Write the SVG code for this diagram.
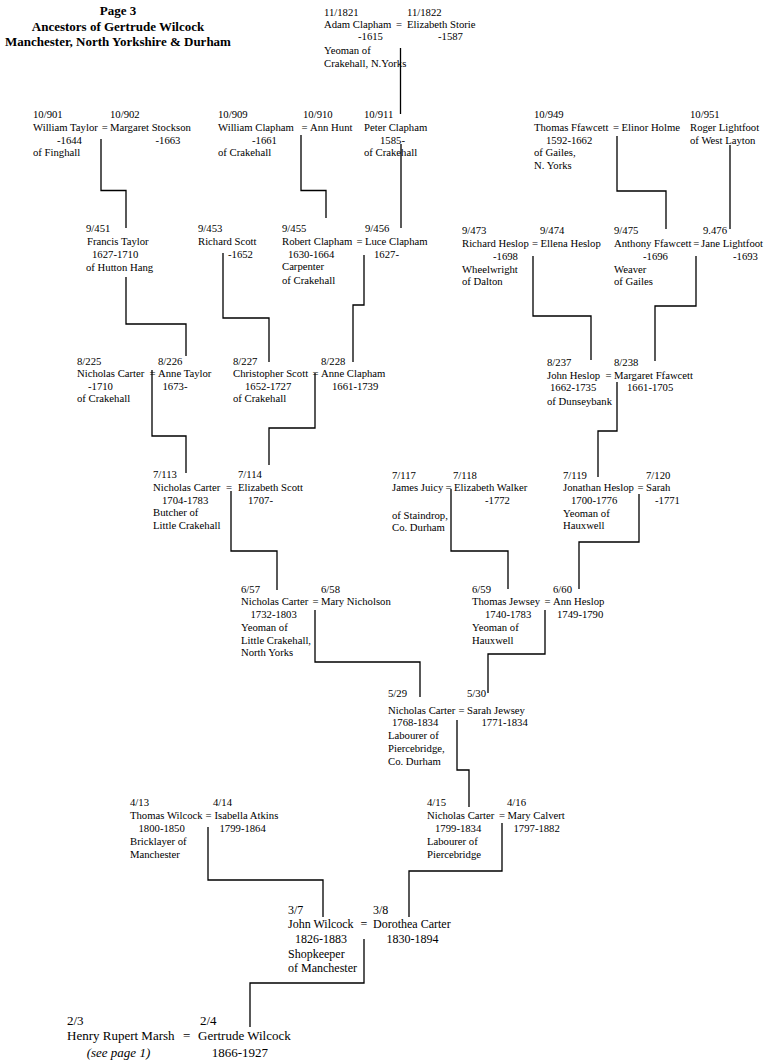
<svg xmlns="http://www.w3.org/2000/svg" width="765" height="1060" viewBox="0 0 765 1060">
<style>
text{font-family:"Liberation Serif","Times New Roman",serif;font-size:10.7px;fill:#000}
.title{font-weight:bold;font-size:13px;text-anchor:middle}
.r3{font-size:12px}
.r2{font-size:13px}
.it{font-style:italic}
.ln{fill:none;stroke:#000;stroke-width:1.3}
</style>
<rect width="765" height="1060" fill="#fff"/>
<g id="title">
<text class="title" x="118" y="15">Page 3</text>
<text class="title" x="118" y="30.5">Ancestors of Gertrude Wilcock</text>
<text class="title" x="118" y="46">Manchester, North Yorkshire &amp; Durham</text>
</g>
<g id="connectors">
<path class="ln" d="M400.5 48V114"/>
<path class="ln" d="M101 139V190.5H126V228"/>
<path class="ln" d="M301 135V190.5H326V218"/>
<path class="ln" d="M401 144V228"/>
<path class="ln" d="M617 136V191H666V229"/>
<path class="ln" d="M730 145V229"/>
<path class="ln" d="M126 277V324H186V356"/>
<path class="ln" d="M223 253V318H269V362"/>
<path class="ln" d="M364 255V305H353V362"/>
<path class="ln" d="M533 256V316H591V360"/>
<path class="ln" d="M696 256V306H655V361"/>
<path class="ln" d="M152 370V436H186V473"/>
<path class="ln" d="M315 373V428H269V465"/>
<path class="ln" d="M617 382V431H598V477"/>
<path class="ln" d="M231 491V551H277V590"/>
<path class="ln" d="M451 489V551H508V589"/>
<path class="ln" d="M639 494V542H579V589"/>
<path class="ln" d="M315 610V662H420V697"/>
<path class="ln" d="M545 610V654H488V693"/>
<path class="ln" d="M457 720V770H469V807"/>
<path class="ln" d="M208 827V880H323V917"/>
<path class="ln" d="M502 823V871H409V917"/>
<path class="ln" d="M364 939V983H250V1027"/>
</g>
<g id="p1821"><text x="324" y="15.7">11/1821</text><text x="324" y="28">Adam Clapham</text><text x="396" y="28">=</text><text x="358" y="40.4">-1615</text><text x="324" y="54.4">Yeoman of</text><text x="324" y="67">Crakehall, N.Yorks</text></g>
<g id="p1822"><text x="407" y="15.7">11/1822</text><text x="407" y="28">Elizabeth Storie</text><text x="438" y="40.4">-1587</text></g>

<g id="p901"><text x="33" y="118">10/901</text><text x="33" y="131">William Taylor</text><text x="101.7" y="131">=</text><text x="57" y="143.5">-1644</text><text x="33" y="156.3">of Finghall</text></g>
<g id="p902"><text x="110" y="118">10/902</text><text x="110" y="131">Margaret Stockson</text><text x="155.5" y="143.5">-1663</text></g>
<g id="p909"><text x="218" y="118">10/909</text><text x="218" y="131">William Clapham</text><text x="301.5" y="131">=</text><text x="252" y="143.5">-1661</text><text x="218" y="156.3">of Crakehall</text></g>
<g id="p910"><text x="303" y="118">10/910</text><text x="310" y="131">Ann Hunt</text></g>
<g id="p911"><text x="364" y="118">10/911</text><text x="364" y="131">Peter Clapham</text><text x="380" y="143.5">1585-</text><text x="364" y="156.3">of Crakehall</text></g>
<g id="p949"><text x="534" y="118">10/949</text><text x="534" y="131">Thomas Ffawcett</text><text x="613" y="131">=</text><text x="546" y="143.5">1592-1662</text><text x="534" y="156.3">of Gailes,</text><text x="534" y="169.1">N. Yorks</text></g>
<g id="p950"><text x="621.5" y="131">Elinor Holme</text></g>
<g id="p951"><text x="690" y="118">10/951</text><text x="690" y="131">Roger Lightfoot</text><text x="690" y="143.5">of West Layton</text></g>

<g id="p451"><text x="86" y="232.2">9/451</text><text x="87" y="245">Francis Taylor</text><text x="92" y="257.7">1627-1710</text><text x="86" y="271">of Hutton Hang</text></g>
<g id="p453"><text x="198" y="232.2">9/453</text><text x="198" y="245">Richard Scott</text><text x="228" y="257.7">-1652</text></g>
<g id="p455"><text x="282" y="232.2">9/455</text><text x="282" y="245">Robert Clapham</text><text x="356.5" y="245">=</text><text x="288" y="257.7">1630-1664</text><text x="282" y="270.4">Carpenter</text><text x="282" y="283.7">of Crakehall</text></g>
<g id="p456"><text x="365" y="232.2">9/456</text><text x="365" y="245">Luce Clapham</text><text x="374" y="257.7">1627-</text></g>
<g id="p473"><text x="462" y="233.7">9/473</text><text x="462" y="246.7">Richard Heslop</text><text x="493" y="259.5">-1698</text><text x="462" y="272.5">Wheelwright</text><text x="462" y="285.3">of Dalton</text></g>
<g id="p474"><text x="540" y="233.7">9/474</text><text x="532" y="246.7">=</text><text x="540.5" y="246.7">Ellena Heslop</text></g>
<g id="p475"><text x="614" y="233.7">9/475</text><text x="614" y="246.7">Anthony Ffawcett</text><text x="693.3" y="246.7">=</text><text x="643" y="259.5">-1696</text><text x="614" y="272.5">Weaver</text><text x="614" y="285.3">of Gailes</text></g>
<g id="p476"><text x="703" y="233.7">9.476</text><text x="701" y="246.7">Jane Lightfoot</text><text x="733" y="259.5">-1693</text></g>

<g id="p225"><text x="77" y="364.5">8/225</text><text x="77" y="377.2">Nicholas Carter</text><text x="149.5" y="377.2">=</text><text x="88" y="390">-1710</text><text x="77" y="402.3">of Crakehall</text></g>
<g id="p226"><text x="158" y="364.5">8/226</text><text x="158" y="377.2">Anne Taylor</text><text x="162.5" y="390">1673-</text></g>
<g id="p227"><text x="233" y="364.5">8/227</text><text x="233" y="377.2">Christopher Scott</text><text x="312.5" y="377.2">=</text><text x="245" y="390">1652-1727</text><text x="233" y="402.3">of Crakehall</text></g>
<g id="p228"><text x="321" y="364.5">8/228</text><text x="321" y="377.2">Anne Clapham</text><text x="332" y="390">1661-1739</text></g>
<g id="p237"><text x="547" y="365.5">8/237</text><text x="547" y="378.5">John Heslop</text><text x="605.5" y="378.5">=</text><text x="550" y="391.2">1662-1735</text><text x="547" y="404.5">of Dunseybank</text></g>
<g id="p238"><text x="614" y="365.5">8/238</text><text x="614" y="378.5">Margaret Ffawcett</text><text x="627" y="391.2">1661-1705</text></g>

<g id="p113"><text x="153" y="478">7/113</text><text x="153" y="491">Nicholas Carter</text><text x="226" y="491">=</text><text x="162" y="503.7">1704-1783</text><text x="153" y="516.4">Butcher of</text><text x="153" y="528.8">Little Crakehall</text></g>
<g id="p114"><text x="238" y="478">7/114</text><text x="238" y="491">Elizabeth Scott</text><text x="248" y="503.7">1707-</text></g>
<g id="p117"><text x="392" y="478.7">7/117</text><text x="392" y="491.4">James Juicy</text><text x="445.5" y="491.4">=</text><text x="392" y="518.7">of Staindrop,</text><text x="392" y="531.4">Co. Durham</text></g>
<g id="p118"><text x="453" y="478.7">7/118</text><text x="454" y="491.4">Elizabeth Walker</text><text x="485" y="503.8">-1772</text></g>
<g id="p119"><text x="563" y="478.7">7/119</text><text x="563" y="491.4">Jonathan Heslop</text><text x="637.5" y="491.4">=</text><text x="571" y="504.3">1700-1776</text><text x="563" y="517">Yeoman of</text><text x="563" y="529.4">Hauxwell</text></g>
<g id="p120"><text x="646" y="478.7">7/120</text><text x="646" y="491.4">Sarah</text><text x="655" y="504.3">-1771</text></g>

<g id="p57"><text x="241" y="592.7">6/57</text><text x="241" y="605.4">Nicholas Carter</text><text x="312.5" y="605.4">=</text><text x="250.5" y="618">1732-1803</text><text x="241" y="631">Yeoman of</text><text x="241" y="643.7">Little Crakehall,</text><text x="241" y="656.4">North Yorks</text></g>
<g id="p58"><text x="321" y="592.7">6/58</text><text x="321" y="605.4">Mary Nicholson</text></g>
<g id="p59"><text x="472" y="592.7">6/59</text><text x="472" y="605.4">Thomas Jewsey</text><text x="544.5" y="605.4">=</text><text x="485" y="618">1740-1783</text><text x="472" y="631">Yeoman of</text><text x="472" y="643.7">Hauxwell</text></g>
<g id="p60"><text x="553" y="592.7">6/60</text><text x="553" y="605.4">Ann Heslop</text><text x="557" y="618">1749-1790</text></g>

<g id="p29"><text x="388" y="697">5/29</text><text x="388" y="713.6">Nicholas Carter</text><text x="458.5" y="713.6">=</text><text x="392" y="726.3">1768-1834</text><text x="388" y="739.2">Labourer of</text><text x="388" y="752">Piercebridge,</text><text x="388" y="764.7">Co. Durham</text></g>
<g id="p30"><text x="467" y="697">5/30</text><text x="467" y="713.6">Sarah Jewsey</text><text x="481.5" y="726.3">1771-1834</text></g>

<g id="p13"><text x="130" y="806">4/13</text><text x="130" y="819.3">Thomas Wilcock</text><text x="205.5" y="819.3">=</text><text x="138.5" y="832">1800-1850</text><text x="130" y="845.3">Bricklayer of</text><text x="130" y="858">Manchester</text></g>
<g id="p14"><text x="213" y="806">4/14</text><text x="214.5" y="819.3">Isabella Atkins</text><text x="219.5" y="832">1799-1864</text></g>
<g id="p15"><text x="427" y="806">4/15</text><text x="427" y="819.3">Nicholas Carter</text><text x="499" y="819.3">=</text><text x="435" y="832">1799-1834</text><text x="427" y="845.3">Labourer of</text><text x="427" y="858">Piercebridge</text></g>
<g id="p16"><text x="507" y="806">4/16</text><text x="507.5" y="819.3">Mary Calvert</text><text x="513.5" y="832">1797-1882</text></g>

<g id="p7"><text class="r3" x="288" y="914.2">3/7</text><text class="r3" x="288" y="928.2">John Wilcock</text><text class="r3" x="360.5" y="928.2">=</text><text class="r3" x="295" y="943.2">1826-1883</text><text class="r3" x="288" y="957.5">Shopkeeper</text><text class="r3" x="288" y="971.5">of Manchester</text></g>
<g id="p8"><text class="r3" x="373" y="914.2">3/8</text><text class="r3" x="373" y="928.2">Dorothea Carter</text><text class="r3" x="386.5" y="943.2">1830-1894</text></g>

<g id="p3"><text class="r2" x="67" y="1025.3">2/3</text><text class="r2" x="67" y="1040.3">Henry Rupert Marsh</text><text class="r2" x="183" y="1040.3">=</text><text class="r2 it" x="86.7" y="1057">(see page 1)</text></g>
<g id="p4"><text class="r2" x="200" y="1025.3">2/4</text><text class="r2" x="198" y="1040.3">Gertrude Wilcock</text><text class="r2" x="211.7" y="1057">1866-1927</text></g>
</svg>
